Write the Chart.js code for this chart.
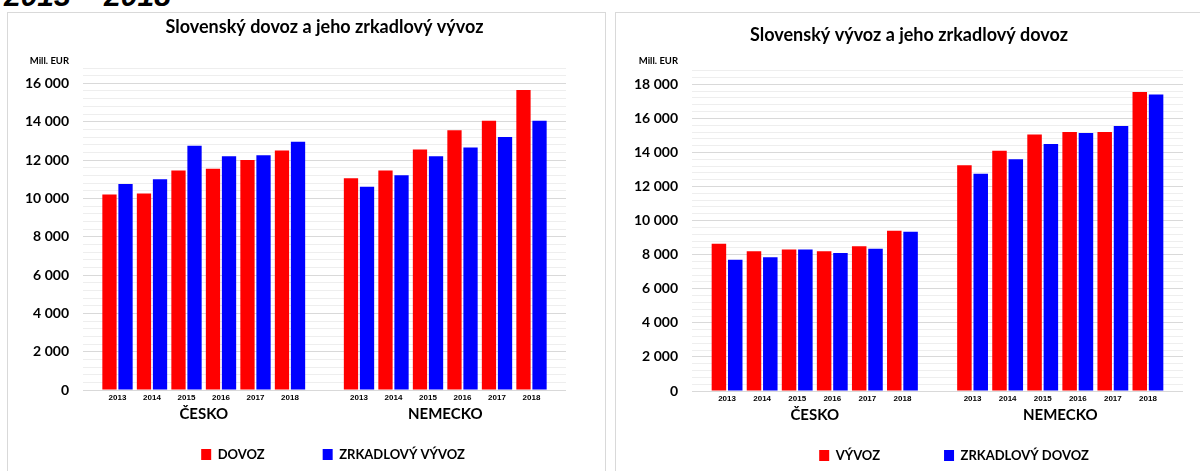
<!DOCTYPE html>
<html>
<head>
<meta charset="utf-8">
<script src="https://cdn.jsdelivr.net/npm/chart.js@4.4.1/dist/chart.umd.min.js"></script>
<style>
    html, body { margin: 0; padding: 0; background: #fff; overflow: hidden; }
    body { width: 1200px; height: 471px; position: relative; }
    #head {
        position: absolute; left: 4px; top: -19px;
        font: italic bold 30px 'Liberation Sans', Arial, sans-serif;
        line-height: 30px; color: #000; white-space: nowrap;
    }
    .panel {
        position: absolute; top: 12px; height: 470px;
        border: 1px solid #d9d9d9; box-sizing: border-box; background: #fff;
    }
    .panel canvas { position: absolute; left: 0; top: 0; }
</style>
</head>
<body>
<div id="head">2013 – 2018</div>
<div class="panel" style="left:7px;width:599px;">
    <canvas id="grafico01" width="596" height="458"></canvas>
</div>
<div class="panel" style="left:615px;width:600px;">
    <canvas id="grafico02" width="584" height="458"></canvas>
</div>
<script>
var roky = ['2013', '2014', '2015', '2016', '2017', '2018'];
var krajiny = ['ČESKO', 'NEMECKO'];

// dovoz SR a zrkadlovy vyvoz partnera (mil. EUR)
var dovozCesko = [10200, 10250, 11450, 11550, 12000, 12500];
var zrkVyvozCesko = [10750, 11000, 12750, 12200, 12250, 12950];
var dovozNemecko = [11050, 11450, 12550, 13550, 14050, 15650];
var zrkVyvozNemecko = [10600, 11200, 12200, 12650, 13200, 14050];

// vyvoz SR a zrkadlovy dovoz partnera (mil. EUR)
var vyvozCesko = [8650, 8200, 8300, 8200, 8500, 9400];
var zrkDovozCesko = [7700, 7850, 8300, 8100, 8350, 9350];
var vyvozNemecko = [13250, 14100, 15050, 15200, 15200, 17550];
var zrkDovozNemecko = [12750, 13600, 14500, 15150, 15550, 17400];

var FONT = "Lato, 'Open Sans', sans-serif";

// roky pre obe krajiny, s prazdnym miestom na krajoch a medzi nimi
function osX() {
    return [''].concat(roky, [''], roky, ['']);
}

function spoj(a, b) {
    return [null].concat(a, [null], b, [null]);
}

function tisice(v) {
    return String(v).replace(/\B(?=(\d{3})+(?!\d))/g, ' ');
}

var jednotka = {
    id: 'jednotka',
    afterDraw: function (chart, args, opts) {
        var ctx = chart.ctx;
        ctx.save();
        ctx.font = 'bold 9.5px ' + FONT;
        ctx.fillStyle = '#000';
        ctx.textAlign = 'right';
        ctx.textBaseline = 'middle';
        ctx.fillText(opts.text, chart.chartArea.left - 14, opts.y);
        ctx.restore();
    }
};

// velka medzera medzi polozkami legendy, text ale ostane dole
var posunLegendy = {
    id: 'posunLegendy',
    afterLayout: function (chart, args, opts) {
        var l = chart.legend;
        var dx = opts.stred - (l.left + l.right) / 2;
        l.top -= l.options.labels.padding - 22;
        l.left += dx;
        l.right += dx;
    }
};

function graf(id, nazov, seria1, seria2, d1, d2, maxY, nastavenie) {
    var ctx = document.getElementById(id).getContext('2d');
    return new Chart(ctx, {
        type: 'bar',
        data: {
            labels: osX(),
            datasets: [{
                label: seria1,
                data: d1,
                backgroundColor: '#ff0000',
                borderWidth: 0,
                categoryPercentage: 0.93,
                barPercentage: 0.89
            }, {
                label: seria2,
                data: d2,
                backgroundColor: '#0000ff',
                borderWidth: 0,
                categoryPercentage: 0.93,
                barPercentage: 0.89
            }]
        },
        plugins: [jednotka, posunLegendy],
        options: {
            responsive: false,
            animation: false,
            layout: {
                padding: { left: nastavenie.padL, right: nastavenie.padR, top: 0, bottom: 0 }
            },
            plugins: {
                title: {
                    display: true,
                    text: nazov,
                    color: '#000',
                    fullSize: nastavenie.cely,
                    font: { family: FONT, size: 18, weight: 'bold', lineHeight: 1.2 },
                    padding: { top: nastavenie.titleTop, bottom: nastavenie.titleBottom }
                },
                legend: {
                    position: 'bottom',
                    maxHeight: nastavenie.legendH,
                    fullSize: false,
                    labels: {
                        color: '#000',
                        font: { family: FONT, size: 13, weight: 'bold' },
                        boxWidth: 10,
                        boxHeight: 11,
                        padding: nastavenie.legendPad
                    }
                },
                tooltip: { enabled: false },
                jednotka: { text: 'Mill. EUR', y: 48 },
                posunLegendy: { stred: nastavenie.legendX }
            },
            scales: {
                x: {
                    offset: false,
                    grid: { display: false, drawTicks: false },
                    border: { display: false },
                    ticks: {
                        autoSkip: false,
                        maxRotation: 0,
                        padding: 3,
                        color: '#000',
                        font: { family: "'Liberation Sans', Arial", size: 8, weight: 'bold' }
                    },
                    afterFit: function (scale) { scale.height = 14; }
                },
                x2: {
                    type: 'category',
                    labels: krajiny,
                    position: 'bottom',
                    offset: true,
                    grid: { display: false, drawTicks: false },
                    border: { display: false },
                    ticks: {
                        padding: 1,
                        color: '#000',
                        font: { family: FONT, size: 15, weight: 'bold' }
                    },
                    afterFit: function (scale) { scale.height = 22; }
                },
                y: {
                    min: 0,
                    max: maxY,
                    border: { display: false },
                    grid: {
                        drawTicks: false,
                        color: function (c) {
                            return c.tick && c.tick.value % 2000 === 0 ? '#d9d9d9' : '#eeeeee';
                        }
                    },
                    ticks: {
                        stepSize: 400,
                        autoSkip: false,
                        padding: 14,
                        color: '#000',
                        font: { family: FONT, size: 14, weight: 'bold' },
                        callback: function (v) {
                            return v % 2000 === 0 ? tisice(v) : '';
                        }
                    },
                    afterFit: function (scale) { scale.width = nastavenie.osY; }
                }
            }
        }
    });
}

graf('grafico01', 'Slovenský dovoz a jeho zrkadlový vývoz', 'DOVOZ', 'ZRKADLOVÝ VÝVOZ',
    spoj(dovozCesko, dovozNemecko), spoj(zrkVyvozCesko, zrkVyvozNemecko), 16800,
    { padL: 0, padR: 38, osY: 75, cely: false, legendH: 45, legendX: 325,
      titleTop: 3.2, titleBottom: 30.2, legendPad: 58 });

graf('grafico02', 'Slovenský vývoz a jeho zrkadlový dovoz', 'VÝVOZ', 'ZRKADLOVÝ DOVOZ',
    spoj(vyvozCesko, vyvozNemecko), spoj(zrkDovozCesko, zrkDovozNemecko), 18800,
    { padL: 19, padR: 17, osY: 57, cely: true, legendH: 44, legendX: 338,
      titleTop: 11.2, titleBottom: 24.9, legendPad: 64 });
</script>
</body>
</html>
